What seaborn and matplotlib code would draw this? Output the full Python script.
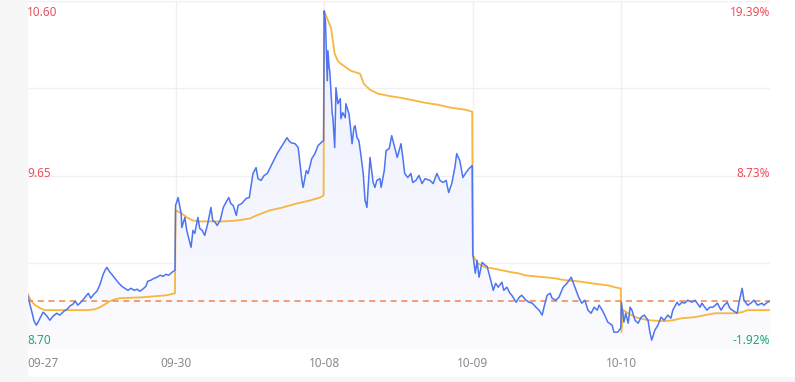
import numpy as np
import pandas as pd
import matplotlib
matplotlib.use("Agg")
import matplotlib.pyplot as plt
from matplotlib.patches import Rectangle
import seaborn as sns

sns.set_theme(style="white")
plt.rcParams['font.family'] = ['Noto Sans', 'DejaVu Sans']

# ---------------- data ----------------
day_labels = ["09-27", "09-30", "10-08", "10-09", "10-10"]
pre_close = 8.966
y_min, y_max = 8.70, 10.60
left_labels = ["10.60", "9.65", "8.70"]
right_labels = ["19.39%", "8.73%", "-1.92%"]

# day 1 (09-27)
d1_min = [0, 5, 8, 11, 15, 18, 21, 26, 31, 37, 42, 48, 53, 60, 65, 69, 74, 78, 82, 87, 90, 95, 99, 103,
          108, 113, 118, 123, 126, 129, 134, 137, 142, 147, 153, 158, 163, 168, 173, 178, 182, 187, 192,
          195, 200, 205, 210, 215, 220, 224, 229, 234, 239]
d1_price = [9.014, 8.944, 8.906, 8.862, 8.835, 8.852, 8.873, 8.906, 8.890, 8.862, 8.884, 8.900, 8.890,
            8.912, 8.922, 8.939, 8.949, 8.966, 8.944, 8.960, 8.971, 8.993, 9.009, 8.982, 9.004, 9.020,
            9.058, 9.112, 9.134, 9.150, 9.123, 9.112, 9.090, 9.069, 9.047, 9.036, 9.025, 9.036, 9.025,
            9.031, 9.020, 9.031, 9.047, 9.074, 9.080, 9.090, 9.096, 9.107, 9.101, 9.112, 9.107, 9.123, 9.134]
d1_avg_min = [0, 6, 13, 21, 29, 53, 97, 110, 118, 126, 134, 142, 150, 187, 207, 226, 239]
d1_avg = [9.014, 8.971, 8.944, 8.928, 8.917, 8.917, 8.917, 8.922, 8.933, 8.949, 8.966, 8.976, 8.982,
          8.987, 8.993, 8.998, 9.009]

# day 2 (09-30)
d2_min = [0, 4, 9, 10, 15, 18, 22, 25, 28, 31, 36, 39, 43, 47, 52, 57, 60, 64, 67, 72, 77, 83, 86, 89,
          93, 98, 101, 107, 114, 119, 122, 125, 130, 133, 138, 143, 148, 152, 156, 161, 164, 170, 175,
          180, 183, 186, 193, 198, 201, 204, 206, 211, 214, 220, 225, 230, 235, 239]
d2_price = [9.487, 9.530, 9.443, 9.367, 9.422, 9.351, 9.297, 9.259, 9.351, 9.335, 9.422, 9.362, 9.351,
            9.324, 9.389, 9.476, 9.405, 9.395, 9.378, 9.405, 9.476, 9.514, 9.530, 9.498, 9.487, 9.433,
            9.487, 9.498, 9.525, 9.530, 9.596, 9.661, 9.693, 9.633, 9.623, 9.650, 9.661, 9.688, 9.715,
            9.748, 9.769, 9.802, 9.829, 9.856, 9.840, 9.829, 9.823, 9.802, 9.715, 9.623, 9.585, 9.677,
            9.661, 9.742, 9.769, 9.813, 9.829, 9.840]
d2_avg_min = [0, 7, 14, 18, 28, 39, 77, 99, 120, 131, 152, 173, 196, 217, 233, 239]
d2_avg = [9.460, 9.449, 9.433, 9.422, 9.405, 9.400, 9.400, 9.405, 9.416, 9.433, 9.460, 9.476, 9.498,
          9.514, 9.530, 9.541]

# day 3 (10-08)
d3_min = [0, 2, 5, 6, 8, 9, 13, 14, 17, 19, 22, 26, 27, 30, 34, 35, 40, 43, 45, 48, 50, 53, 56, 59, 63,
          66, 67, 69, 74, 76, 79, 82, 85, 90, 92, 97, 100, 105, 109, 114, 118, 124, 127, 130, 135, 140,
          143, 148, 153, 158, 163, 171, 176, 182, 187, 192, 197, 201, 206, 211, 214, 219, 224, 229, 234, 239]
d3_price = [10.546, 10.491, 10.166, 10.329, 10.236, 10.220, 9.986, 9.965, 9.802, 10.128, 10.041, 10.068,
            9.959, 9.992, 9.965, 10.041, 9.986, 9.894, 9.823, 9.910, 9.921, 9.856, 9.840, 9.769, 9.661,
            9.514, 9.503, 9.476, 9.748, 9.693, 9.612, 9.585, 9.623, 9.633, 9.585, 9.677, 9.786, 9.796,
            9.867, 9.802, 9.748, 9.823, 9.748, 9.661, 9.639, 9.661, 9.612, 9.623, 9.650, 9.606, 9.633,
            9.623, 9.606, 9.661, 9.623, 9.612, 9.623, 9.557, 9.606, 9.693, 9.769, 9.731, 9.639, 9.666,
            9.688, 9.704]
d3_avg_min = [0, 11, 17, 22, 27, 43, 58, 64, 74, 87, 103, 124, 140, 163, 184, 205, 228, 239]
d3_avg = [10.546, 10.453, 10.312, 10.274, 10.258, 10.220, 10.204, 10.149, 10.117, 10.095, 10.084,
          10.073, 10.062, 10.046, 10.035, 10.019, 10.008, 9.997]

# day 4 (10-09)
d4_min = [0, 4, 7, 10, 15, 20, 23, 26, 29, 33, 37, 41, 47, 50, 55, 60, 63, 70, 75, 79, 86, 91, 96, 102,
          107, 112, 115, 120, 125, 128, 134, 139, 146, 152, 159, 165, 171, 176, 181, 186, 191, 196, 201,
          204, 209, 213, 218, 225, 228, 234, 239]
d4_price = [9.226, 9.118, 9.188, 9.096, 9.177, 9.161, 9.156, 9.118, 9.080, 9.025, 9.063, 9.042, 9.069,
            9.025, 9.042, 9.009, 8.998, 8.960, 8.987, 8.998, 8.971, 8.960, 8.955, 8.933, 8.917, 8.890,
            8.933, 8.998, 9.009, 8.982, 8.971, 8.987, 9.042, 9.063, 9.096, 9.042, 8.987, 8.955, 8.971,
            8.917, 8.900, 8.933, 8.917, 8.944, 8.917, 8.890, 8.852, 8.835, 8.797, 8.797, 8.819]
d4_avg_min = [0, 8, 20, 31, 47, 63, 73, 84, 100, 117, 133, 149, 170, 192, 218, 229, 237, 239]
d4_avg = [9.215, 9.172, 9.150, 9.145, 9.134, 9.123, 9.118, 9.107, 9.101, 9.096, 9.090, 9.080, 9.074,
          9.063, 9.052, 9.042, 9.036, 9.036]

# day 5 (10-10)
d5_min = [0, 4, 7, 11, 14, 17, 22, 27, 32, 37, 43, 46, 49, 54, 59, 64, 69, 75, 80, 83, 90, 93, 98, 102,
          107, 114, 119, 127, 130, 138, 143, 148, 155, 161, 166, 171, 175, 179, 187, 190, 195, 198, 204,
          209, 214, 220, 227, 230, 236, 240]
d5_price = [8.960, 8.852, 8.900, 8.846, 8.933, 8.917, 8.862, 8.846, 8.879, 8.890, 8.862, 8.797, 8.754,
            8.808, 8.835, 8.879, 8.862, 8.890, 8.873, 8.917, 8.960, 8.944, 8.960, 8.955, 8.971, 8.960,
            8.971, 8.933, 8.955, 8.917, 8.933, 8.933, 8.955, 8.917, 8.944, 8.960, 8.928, 8.917, 8.900,
            8.960, 9.036, 8.971, 8.944, 8.955, 8.971, 8.944, 8.955, 8.944, 8.960, 8.966]
d5_avg_min = [0, 3, 11, 22, 43, 70, 83, 98, 119, 135, 151, 183, 195, 204, 240]
d5_avg = [8.797, 8.917, 8.900, 8.879, 8.862, 8.857, 8.862, 8.873, 8.879, 8.890, 8.900, 8.900, 8.906,
          8.917, 8.917]

# ---------------- build tables ----------------
MIN_PER_DAY = 240
price_days = [(d1_min, d1_price), (d2_min, d2_price), (d3_min, d3_price), (d4_min, d4_price), (d5_min, d5_price)]
avg_days = [(d1_avg_min, d1_avg), (d2_avg_min, d2_avg), (d3_avg_min, d3_avg), (d4_avg_min, d4_avg), (d5_avg_min, d5_avg)]

price_df = pd.concat([pd.DataFrame({"t": np.array(m) + i * MIN_PER_DAY, "price": p})
                      for i, (m, p) in enumerate(price_days)], ignore_index=True)
avg_df = pd.concat([pd.DataFrame({"t": np.array(m) + i * MIN_PER_DAY, "avg": p})
                    for i, (m, p) in enumerate(avg_days)], ignore_index=True)

# ---------------- figure ----------------
W, H = 795, 382
fig = plt.figure(figsize=(W / 100, H / 100), dpi=100, facecolor="white")
# light gray frame areas
fig.patches.append(Rectangle((0, 0), 27 / W, 1, transform=fig.transFigure, color="#f7f7f8", zorder=0))
fig.patches.append(Rectangle((0, 0), 1, 5 / H, transform=fig.transFigure, color="#f7f7f8", zorder=0))

ax = fig.add_axes([27 / W, 1 - 350 / H, 743 / W, 349 / H])
ax.set_facecolor("white")
x_end = len(day_labels) * MIN_PER_DAY
ax.set_xlim(0, x_end)
ax.set_ylim(y_min, y_max)

# grid
for k in range(1, len(day_labels)):
    ax.axvline(k * MIN_PER_DAY, color="#f0f0f0", lw=1, zorder=0)
for v in np.linspace(y_min, y_max, 5):
    ax.axhline(v, color="#f0f0f0", lw=1, zorder=0)

# gradient fill under the price line
tx = price_df["t"].values
py = price_df["price"].values
poly = ax.fill_between(tx, py, y_min, color="none", lw=0)
grad = np.linspace(0, 1, 256).reshape(-1, 1)
cmap = matplotlib.colors.LinearSegmentedColormap.from_list("g", ["#fbfbff", "#eceffc"])
im = ax.imshow(grad, aspect="auto", cmap=cmap, origin="lower",
               extent=[0, x_end, y_min, y_max], zorder=1)
im.set_clip_path(poly.get_paths()[0], transform=ax.transData)

# lines
sns.lineplot(data=price_df, x="t", y="price", ax=ax, color="#4d74f2", lw=1.1, zorder=3, estimator=None, sort=False)
sns.lineplot(data=avg_df, x="t", y="avg", ax=ax, color="#f7b63e", lw=1.3, zorder=2, estimator=None, sort=False)
ax.axhline(pre_close, color="#f0864a", lw=1.1, ls=(0, (4, 3)), zorder=2)

ax.set_xlabel("")
ax.set_ylabel("")
ax.set_xticks([])
ax.set_yticks([])
for s in ax.spines.values():
    s.set_visible(False)

red = "#f04e5c"
green = "#21a67f"
fs = 8.5
ax.text(0.0, 0.967, left_labels[0], transform=ax.transAxes, color=red, fontsize=fs, ha="left", va="center")
ax.text(0.0, 0.505, left_labels[1], transform=ax.transAxes, color=red, fontsize=fs, ha="left", va="center")
ax.text(0.0, 0.027, left_labels[2], transform=ax.transAxes, color=green, fontsize=fs, ha="left", va="center")
ax.text(1.0, 0.967, right_labels[0], transform=ax.transAxes, color=red, fontsize=fs, ha="right", va="center")
ax.text(1.0, 0.505, right_labels[1], transform=ax.transAxes, color=red, fontsize=fs, ha="right", va="center")
ax.text(1.0, 0.027, right_labels[2], transform=ax.transAxes, color=green, fontsize=fs, ha="right", va="center")

# date labels
for i, lab in enumerate(day_labels):
    ax.text(i * MIN_PER_DAY, -0.038, lab, transform=ax.get_xaxis_transform(), color="#8a8a8a",
            fontsize=fs, ha="left" if i == 0 else "center", va="center")

fig.savefig("out.png", dpi=100, facecolor=fig.get_facecolor())
